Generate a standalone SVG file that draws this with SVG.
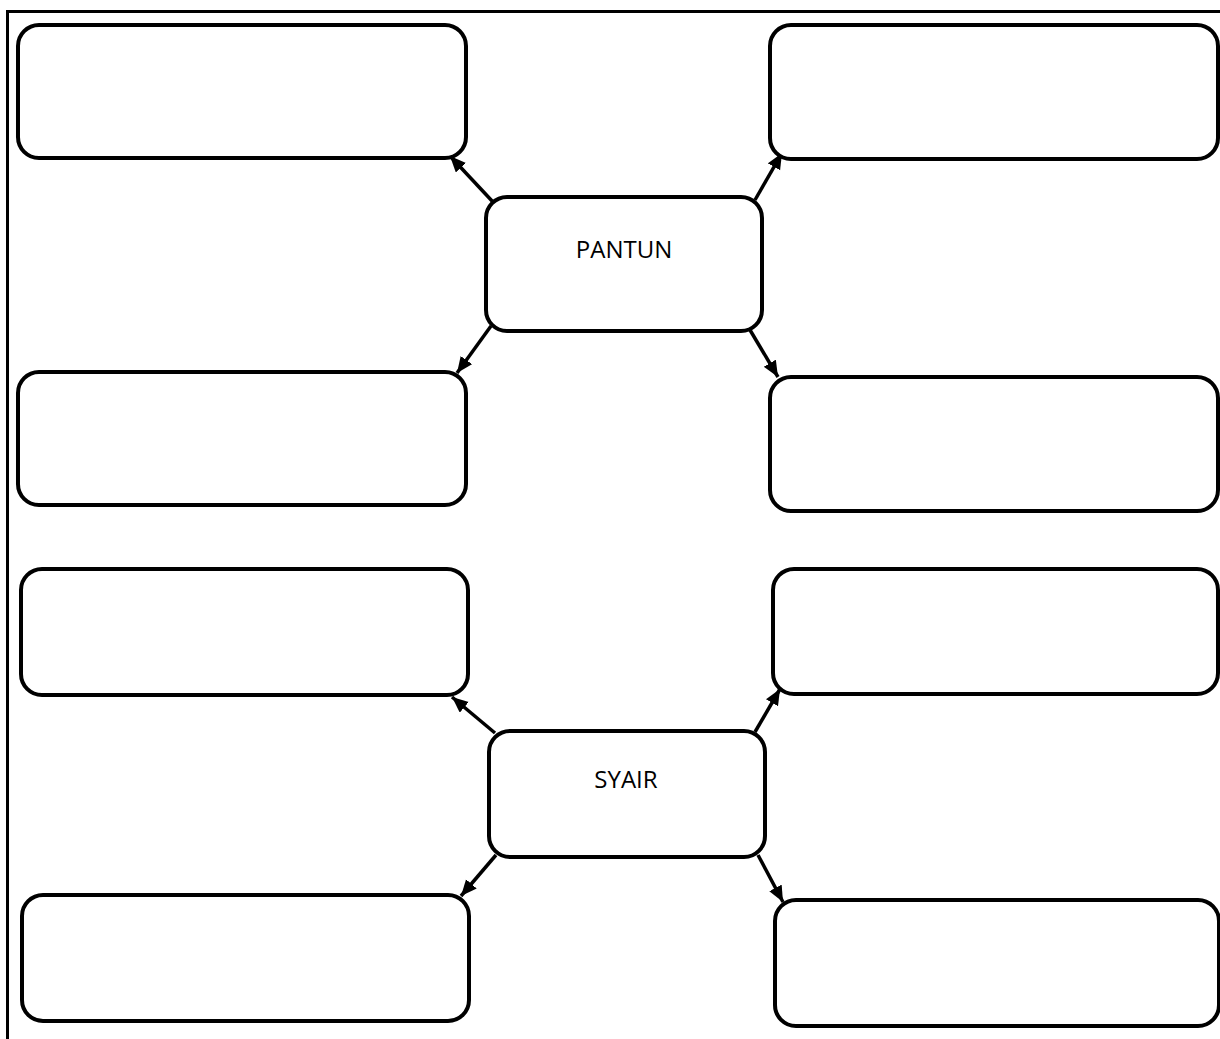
<svg xmlns="http://www.w3.org/2000/svg" width="1220" height="1039" viewBox="0 0 1220 1039">
<style>
.box{fill:#fff;stroke:#000;stroke-width:4}
.lbl{font-family:"Open Sans","Noto Sans",sans-serif;font-size:24px;fill:#000;text-anchor:middle}
.con{stroke:#000;stroke-width:3.5;fill:none;marker-end:url(#ah)}
</style>
<defs>
<marker id="ah" markerUnits="userSpaceOnUse" markerWidth="18" markerHeight="16" refX="16" refY="7" orient="auto">
<path d="M0,0 L16,7 L0,14 Z" fill="#000"/>
</marker>
</defs>
<rect width="1220" height="1039" fill="#fff"/>
<polyline points="7.5,1039 7.5,11.5 1220,11.5" fill="none" stroke="#000" stroke-width="3"/>
<g id="connectors">
<line class="con" x1="493" y1="202" x2="450" y2="156"/>
<line class="con" x1="755" y1="200" x2="782" y2="153"/>
<line class="con" x1="491" y1="326" x2="457" y2="373"/>
<line class="con" x1="750" y1="330" x2="778" y2="377"/>
<line class="con" x1="495" y1="733" x2="452" y2="697"/>
<line class="con" x1="755" y1="732" x2="780" y2="689"/>
<line class="con" x1="496" y1="855" x2="461" y2="896"/>
<line class="con" x1="758" y1="855" x2="783" y2="902"/>
</g>
<g id="box-tl"><rect class="box" x="18" y="25" width="448" height="133" rx="21"/></g>
<g id="box-tr"><rect class="box" x="770" y="25" width="448" height="134" rx="21"/></g>
<g id="pantun"><rect class="box" x="486" y="197" width="276" height="134" rx="21"/><text class="lbl" x="624" y="258">PANTUN</text></g>
<g id="box-ml"><rect class="box" x="18" y="372" width="448" height="133" rx="21"/></g>
<g id="box-mr"><rect class="box" x="770" y="377" width="448" height="134" rx="21"/></g>
<g id="box-sl"><rect class="box" x="21" y="569" width="447" height="126" rx="21"/></g>
<g id="box-sr"><rect class="box" x="773" y="569" width="445" height="125" rx="21"/></g>
<g id="syair"><rect class="box" x="489" y="731" width="276" height="126" rx="21"/><text class="lbl" x="626" y="788">SYAIR</text></g>
<g id="box-bl"><rect class="box" x="22" y="895" width="447" height="126" rx="21"/></g>
<g id="box-br"><rect class="box" x="775" y="900" width="444" height="126" rx="21"/></g>
</svg>
